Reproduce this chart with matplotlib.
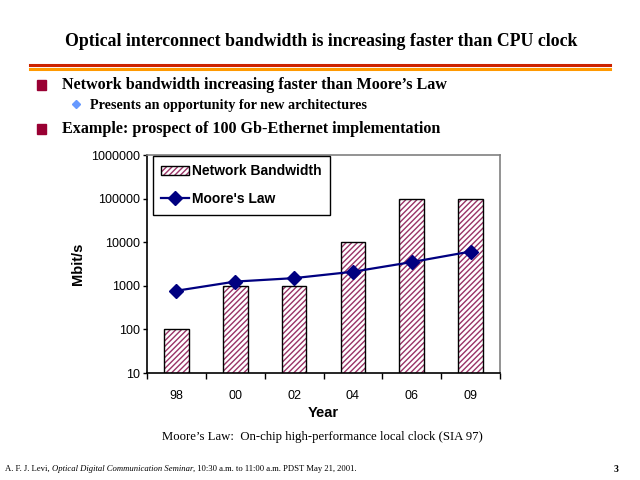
import matplotlib
matplotlib.use("Agg")
import matplotlib.pyplot as plt
import matplotlib.patches as mpatches
from matplotlib.lines import Line2D
from matplotlib.ticker import FixedLocator, FuncFormatter, NullLocator

years = ["98", "00", "02", "04", "06", "09"]
network_bw = [100, 1000, 1000, 10000, 100000, 100000]
moores_law = [770, 1250, 1500, 2100, 3500, 6100]
ytick_vals = [10, 100, 1000, 10000, 100000, 1000000]

title = "Optical interconnect bandwidth is increasing faster than CPU clock"
bullet1 = "Network bandwidth increasing faster than Moore\u2019s Law"
sub1 = "Presents an opportunity for new architectures"
bullet2 = "Example: prospect of 100 Gb-Ethernet implementation"
caption = "Moore\u2019s Law:  On-chip high-performance local clock (SIA 97)"

W, H = 640, 480
fig = plt.figure(figsize=(6.4, 4.8), dpi=100)
fig.patch.set_facecolor("white")

def fx(x):
    return x / W

def fy(y):
    return 1 - y / H

serif = "Liberation Serif"
sans = "Liberation Sans"

# Title and rules
fig.text(fx(321), fy(42), title, ha="center", va="center", family=serif,
         weight="bold", fontsize=12.8)
fig.add_artist(Line2D([fx(30), fx(610)], [fy(64.5), fy(64.5)], color="#cc2200", lw=2.2))
fig.add_artist(Line2D([fx(30), fx(610)], [fy(68.5), fy(68.5)], color="#ff9900", lw=2.2))

# Bullets
for yb in (85, 129):
    fig.add_artist(mpatches.Rectangle((fx(37), fy(yb + 4.5)), fx(9), 9 / H,
                                      color="#990033", transform=fig.transFigure))
fig.text(fx(62), fy(85), bullet1, ha="left", va="center", family=serif,
         weight="bold", fontsize=11.6)
fig.text(fx(62), fy(129), bullet2, ha="left", va="center", family=serif,
         weight="bold", fontsize=11.6)
fig.add_artist(Line2D([fx(76)], [fy(104)], marker="D", color="#6699ff",
                      markersize=4, linestyle="none"))
fig.text(fx(90), fy(105), sub1, ha="left", va="center", family=serif,
         weight="bold", fontsize=10.2)

# Chart
ax = fig.add_axes([fx(147), fy(373), fx(500) - fx(147), (373 - 155) / H])
x = list(range(len(years)))
ax.bar(x, network_bw, width=0.42, color="white", edgecolor="#993366",
       hatch="//////", linewidth=0, zorder=2)
ax.bar(x, network_bw, width=0.42, fill=False, edgecolor="black",
       linewidth=1.0, zorder=3)
ax.plot(x, moores_law, color="#000080", marker="D", markersize=7, lw=1.6,
        zorder=4)

ax.set_yscale("log")
ax.set_ylim(10, 1000000)
ax.set_xlim(-0.5, len(years) - 0.5)
ax.yaxis.set_major_locator(FixedLocator(ytick_vals))
ax.yaxis.set_minor_locator(NullLocator())
ax.yaxis.set_major_formatter(FuncFormatter(lambda v, p: f"{int(round(v))}"))
ax.set_xticks(x)
ax.set_xticklabels(years)
ax.set_xticks([i - 0.5 for i in range(len(years) + 1)], minor=True)
ax.tick_params(axis="x", which="major", length=0, pad=12, labelsize=9)
ax.tick_params(axis="x", which="minor", length=4, direction="out", width=1)
ax.tick_params(axis="y", which="major", length=3, direction="out", labelsize=9,
               width=1, pad=2)
for lab in ax.get_xticklabels() + ax.get_yticklabels():
    lab.set_family(sans)

ax.spines["left"].set_color("black")
ax.spines["bottom"].set_color("black")
ax.spines["top"].set_color("#808080")
ax.spines["right"].set_color("#808080")
for s in ax.spines.values():
    s.set_linewidth(1.2)

ax.set_ylabel("Mbit/s", family=sans, weight="bold", fontsize=10.5, labelpad=4)
ax.set_xlabel("Year", family=sans, weight="bold", fontsize=10.5, labelpad=3)

h_bar = mpatches.Patch(facecolor="white", edgecolor="#993366", hatch="//////",
                       linewidth=0)
h_bar_edge = mpatches.Patch(fill=False, edgecolor="black", linewidth=1)
h_line = Line2D([], [], color="#000080", marker="D", markersize=7, lw=1.6)
leg = ax.legend([(h_bar, h_bar_edge), h_line], ["Network Bandwidth", "Moore's Law"],
                loc="upper left", bbox_to_anchor=(0.017, 0.995), borderaxespad=0,
                fancybox=False, framealpha=1, edgecolor="black",
                prop={"family": sans, "weight": "bold", "size": 10},
                handlelength=2.0, labelspacing=1.0, borderpad=0.6,
                handletextpad=0.2)
leg.get_frame().set_linewidth(1.0)
leg.set_zorder(5)

# Caption and footer
fig.text(fx(322), fy(437), caption, ha="center", va="center", family=serif,
         fontsize=9.2)

fig.canvas.draw()
renderer = fig.canvas.get_renderer()
pieces = [("A. F. J. Levi, ", "normal"),
          ("Optical Digital Communication Seminar", "italic"),
          (", 10:30 a.m. to 11:00 a.m. PDST May 21, 2001.", "normal")]
cx = fx(5)
for txt, style in pieces:
    t = fig.text(cx, fy(469), txt, ha="left", va="center", family=serif,
                 style=style, fontsize=6.2)
    bb = t.get_window_extent(renderer=renderer)
    cx += bb.width / W
fig.text(fx(616), fy(469), "3", ha="center", va="center", family=serif,
         weight="bold", fontsize=7)

fig.savefig("out.png", dpi=100, facecolor="white")
